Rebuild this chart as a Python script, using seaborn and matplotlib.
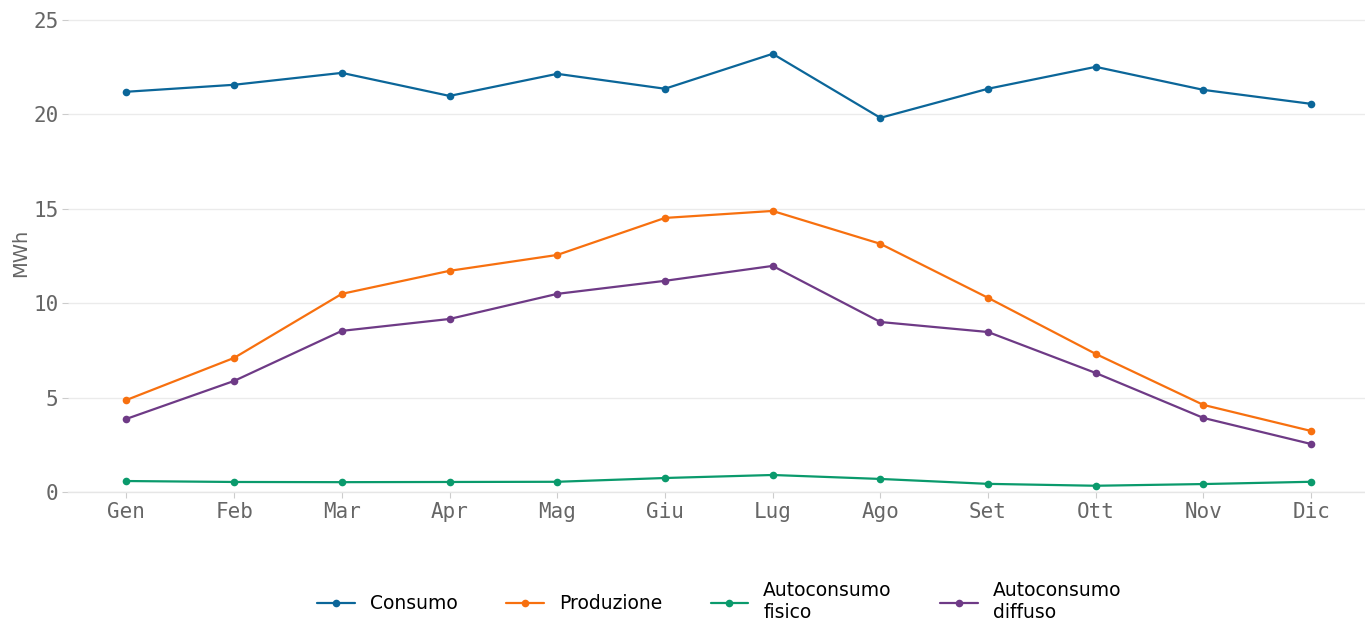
import matplotlib
matplotlib.use("Agg")
import matplotlib.pyplot as plt
import seaborn as sns
import pandas as pd

months = ["Gen", "Feb", "Mar", "Apr", "Mag", "Giu", "Lug", "Ago", "Set", "Ott", "Nov", "Dic"]
consumo = [21.19, 21.56, 22.19, 20.97, 22.14, 21.35, 23.20, 19.81, 21.35, 22.51, 21.29, 20.55]
produzione = [4.87, 7.10, 10.49, 11.71, 12.55, 14.51, 14.88, 13.14, 10.28, 7.31, 4.61, 3.23]
auto_fisico = [0.58, 0.53, 0.52, 0.53, 0.54, 0.74, 0.90, 0.69, 0.43, 0.33, 0.42, 0.54]
auto_diffuso = [3.87, 5.88, 8.53, 9.16, 10.49, 11.18, 11.97, 9.00, 8.47, 6.30, 3.92, 2.54]

series_names = ["Consumo", "Produzione", "Autoconsumo\nfisico", "Autoconsumo\ndiffuso"]
colors = ["#0b6699", "#f7700f", "#0a9a6c", "#6e3a86"]

rows = []
for name, vals in zip(series_names, [consumo, produzione, auto_fisico, auto_diffuso]):
    for m, v in zip(months, vals):
        rows.append({"Mese": m, "Valore": v, "Serie": name})
df = pd.DataFrame(rows)

sns.set_theme(style="white")
plt.rcParams["font.family"] = ["DejaVu Sans"]
fig = plt.figure(figsize=(13.65, 6.23), dpi=100)
ax = fig.add_axes([0.05, 0.2103, 0.95, 0.767])

sns.lineplot(data=df, x="Mese", y="Valore", hue="Serie", hue_order=series_names,
             palette=colors, marker="o", markersize=5.5, markeredgewidth=0,
             linewidth=1.6, ax=ax, sort=False)

ax.set_xlim(-0.54, 11.5)
ax.set_ylim(0, 25.3)
ax.set_yticks([0, 5, 10, 15, 20, 25])
ax.yaxis.grid(True, color="#ebebeb", linewidth=1)
ax.xaxis.grid(False)
for s in ["top", "right", "left"]:
    ax.spines[s].set_visible(False)
ax.spines["bottom"].set_color("#e6e6e6")
ax.spines["bottom"].set_linewidth(1)

ax.tick_params(axis="both", which="both", length=4, width=0.8, color="#cccccc",
               labelcolor="#666666", labelsize=15, bottom=True, left=True, pad=3)
for lab in ax.get_xticklabels() + ax.get_yticklabels():
    lab.set_family("DejaVu Sans Mono")

ax.set_xlabel("")
ax.set_ylabel("MWh", color="#666666", fontsize=14, labelpad=2)

handles, labels = ax.get_legend_handles_labels()
ax.legend_.remove()
leg = fig.legend(handles, labels, loc="center", bbox_to_anchor=(0.527, 0.034), ncol=4,
                 frameon=False, fontsize=13.5, handlelength=2.0, columnspacing=2.6,
                 handletextpad=0.8)
for t in leg.get_texts():
    t.set_color("black")

fig.savefig("out.png", dpi=100)
